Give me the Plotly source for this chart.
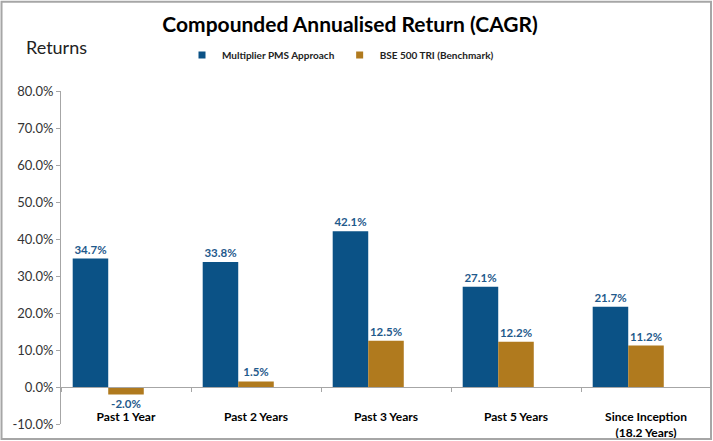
import plotly.graph_objects as go

categories = ["Past 1 Year", "Past 2 Years", "Past 3 Years", "Past 5 Years",
              "Since Inception<br>(18.2 Years)"]
pms_values = [34.7, 33.8, 42.1, 27.1, 21.7]
bse_values = [-2.0, 1.5, 12.5, 12.2, 11.2]
y_ticks = [-10, 0, 10, 20, 30, 40, 50, 60, 70, 80]

BLUE = "#0B5286"
GOLD = "#B07A1E"
LABEL = "#1F5A8C"
FONT = "Lato"

fig = go.Figure()

fig.add_trace(go.Bar(
    x=categories, y=pms_values, name="Multiplier PMS Approach",
    marker=dict(color=BLUE, line=dict(width=0)),
    text=[f"{v:.1f}%" for v in pms_values], textposition="outside",
    textfont=dict(family=FONT, size=11.5, color=LABEL, weight="bold"),
    cliponaxis=False, showlegend=False,
))
fig.add_trace(go.Bar(
    x=categories, y=bse_values, name="BSE 500 TRI (Benchmark)",
    marker=dict(color=GOLD, line=dict(width=0)),
    text=[f"{v:.1f}%" for v in bse_values], textposition="outside",
    textfont=dict(family=FONT, size=11.5, color=LABEL, weight="bold"),
    cliponaxis=False, showlegend=False,
))
# empty third slot, as in the original workbook's grouping
fig.add_trace(go.Bar(
    x=categories, y=[None] * len(categories), showlegend=False,
    hoverinfo="skip",
))

# small square legend keys
for name, color in [("Multiplier PMS Approach", BLUE),
                    ("BSE 500 TRI (Benchmark)", GOLD)]:
    fig.add_trace(go.Scatter(
        x=[None], y=[None], mode="markers", name=name,
        marker=dict(symbol="square", size=7, color=color),
    ))

fig.update_layout(
    width=713, height=441,
    margin=dict(l=61, r=2, t=91, b=17),
    paper_bgcolor="white", plot_bgcolor="white",
    barmode="group", bargap=0.18, bargroupgap=0,
    font=dict(family=FONT, color="#222222"),
    title=dict(text="<b>Compounded Annualised Return (CAGR)</b>",
               x=0.491, xanchor="center", y=0.944, yanchor="middle",
               font=dict(family=FONT, size=21, color="black")),
    legend=dict(orientation="h", x=0.43, xanchor="center", y=1.108,
                yanchor="middle", font=dict(family=FONT, size=10, color="#222222",
                                            weight="bold"),
                itemwidth=30, traceorder="normal"),
    annotations=[dict(text="Returns", xref="paper", yref="paper",
                      x=-0.057, y=1.132, xanchor="left", yanchor="middle",
                      showarrow=False,
                      font=dict(family=FONT, size=18, color="#222222"))],
    shapes=[dict(type="rect", xref="paper", yref="paper", layer="above",
                 x0=-0.0915, x1=1.0, y0=-0.045, y1=1.268,
                 line=dict(color="#A6A6A6", width=2))],
)

fig.update_yaxes(
    range=[-10, 80], tickvals=y_ticks,
    ticktext=[f"{v:.1f}%" for v in y_ticks],
    showgrid=False, zeroline=False,
    showline=True, linecolor="#A6A6A6", linewidth=1,
    ticks="outside", ticklen=4, tickcolor="#A6A6A6",
    tickfont=dict(family=FONT, size=13, color="#333333"),
)
fig.update_xaxes(
    anchor="free", position=10 / 90,
    showline=True, linecolor="#A6A6A6", linewidth=1,
    ticks="outside", ticklen=4, tickcolor="#A6A6A6", tickson="boundaries",
    ticklabelstandoff=19,
    showgrid=False,
    tickfont=dict(family=FONT, size=12, color="black", weight="bold"),
)

fig.write_html("out.html", config={"displayModeBar": False},
               post_script="document.body.style.margin='0';")
